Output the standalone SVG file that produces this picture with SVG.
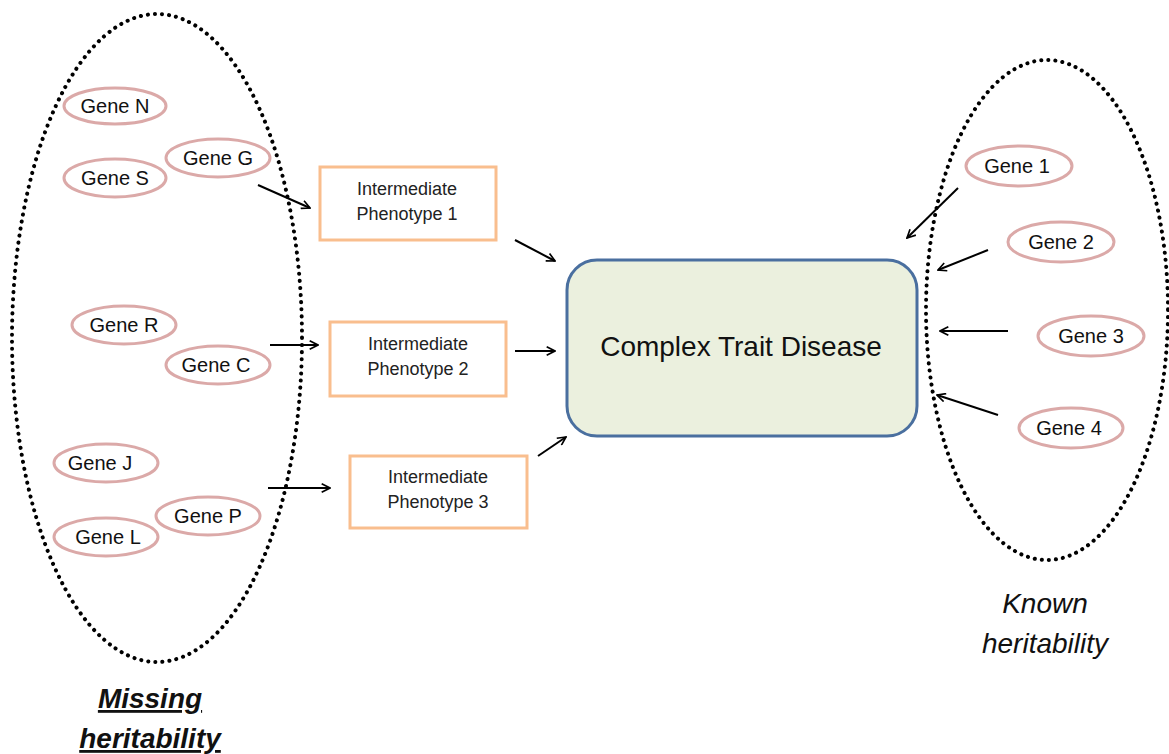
<svg xmlns="http://www.w3.org/2000/svg" width="1169" height="754" viewBox="0 0 1169 754">
<style>
.gene{fill:#fff;stroke:#dba9a8;stroke-width:3}
.gt{font-family:"Liberation Sans",Arial,sans-serif;font-size:20px;fill:#111;text-anchor:middle}
.ph{fill:#fff;stroke:#f9be8e;stroke-width:3}
.pt{font-family:"Liberation Sans",Arial,sans-serif;font-size:18px;fill:#222;text-anchor:middle}
.dot{fill:none;stroke:#000;stroke-width:4;stroke-dasharray:0.1 7;stroke-linecap:round}
.ar{stroke:#000;stroke-width:2;fill:none;marker-end:url(#ah)}
.lbl{font-family:"Liberation Sans",Arial,sans-serif;font-size:28px;font-style:italic;fill:#111;text-anchor:middle}
</style>
<defs>
<marker id="ah" viewBox="0 0 12 12" refX="11" refY="6" markerWidth="10" markerHeight="10" markerUnits="userSpaceOnUse" orient="auto">
<path d="M1,1 L11,6 L1,11" fill="none" stroke="#000" stroke-width="2"/>
</marker>
</defs>
<rect width="1169" height="754" fill="#fff"/>
<g id="missing-group">
<ellipse class="dot" cx="157" cy="338" rx="145" ry="324"/>
</g>
<g id="known-group">
<ellipse class="dot" cx="1047" cy="310" rx="121" ry="250"/>
</g>
<g id="gene-n"><ellipse class="gene" cx="115" cy="106" rx="51" ry="18"/><text class="gt" x="115" y="113">Gene N</text></g>
<g id="gene-s"><ellipse class="gene" cx="115" cy="178" rx="51" ry="19"/><text class="gt" x="115" y="185">Gene S</text></g>
<g id="gene-g"><ellipse class="gene" cx="218" cy="158" rx="52" ry="19"/><text class="gt" x="218" y="165">Gene G</text></g>
<g id="gene-r"><ellipse class="gene" cx="124" cy="325" rx="52" ry="19"/><text class="gt" x="124" y="332">Gene R</text></g>
<g id="gene-c"><ellipse class="gene" cx="218" cy="365" rx="52" ry="19"/><text class="gt" x="216" y="372">Gene C</text></g>
<g id="gene-j"><ellipse class="gene" cx="106" cy="463" rx="52" ry="19"/><text class="gt" x="100" y="470">Gene J</text></g>
<g id="gene-l"><ellipse class="gene" cx="106" cy="537" rx="52" ry="19"/><text class="gt" x="108" y="544">Gene L</text></g>
<g id="gene-p"><ellipse class="gene" cx="208" cy="516" rx="52" ry="19"/><text class="gt" x="208" y="523">Gene P</text></g>
<g id="gene-1"><ellipse class="gene" cx="1019" cy="166" rx="53" ry="20"/><text class="gt" x="1017" y="173">Gene 1</text></g>
<g id="gene-2"><ellipse class="gene" cx="1061" cy="242" rx="53" ry="20"/><text class="gt" x="1061" y="249">Gene 2</text></g>
<g id="gene-3"><ellipse class="gene" cx="1091" cy="336" rx="53" ry="20"/><text class="gt" x="1091" y="343">Gene 3</text></g>
<g id="gene-4"><ellipse class="gene" cx="1071" cy="428" rx="52" ry="20"/><text class="gt" x="1069" y="435">Gene 4</text></g>
<g id="pheno-1"><rect class="ph" x="320" y="167" width="176" height="73"/><text class="pt" x="407" y="195">Intermediate</text><text class="pt" x="407" y="220">Phenotype  1</text></g>
<g id="pheno-2"><rect class="ph" x="330" y="322" width="176" height="74"/><text class="pt" x="418" y="350">Intermediate</text><text class="pt" x="418" y="375">Phenotype  2</text></g>
<g id="pheno-3"><rect class="ph" x="350" y="456" width="177" height="72"/><text class="pt" x="438" y="483">Intermediate</text><text class="pt" x="438" y="508">Phenotype  3</text></g>
<g id="disease"><rect x="567" y="260" width="350" height="176" rx="30" fill="#ebf0de" stroke="#4a6f9f" stroke-width="3"/><text x="741" y="356" font-family="'Liberation Sans',Arial,sans-serif" font-size="28" fill="#111" text-anchor="middle">Complex Trait Disease</text></g>
<g id="connectors">
<line class="ar" x1="258" y1="185" x2="310" y2="208"/>
<line class="ar" x1="515" y1="240" x2="555" y2="261"/>
<line class="ar" x1="270" y1="345" x2="318" y2="345"/>
<line class="ar" x1="515" y1="351" x2="555" y2="351"/>
<line class="ar" x1="268" y1="488" x2="330" y2="488"/>
<line class="ar" x1="538" y1="456" x2="566" y2="437"/>
<line class="ar" x1="958" y1="188" x2="907" y2="238"/>
<line class="ar" x1="988" y1="250" x2="938" y2="270"/>
<line class="ar" x1="1008" y1="331" x2="940" y2="331"/>
<line class="ar" x1="998" y1="415" x2="937" y2="395"/>
</g>
<g id="labels">
<text class="lbl" x="150" y="708" font-weight="bold" text-decoration="underline">Missing</text>
<text class="lbl" x="150" y="748" font-weight="bold" text-decoration="underline">heritability</text>
<text class="lbl" x="1045" y="613">Known</text>
<text class="lbl" x="1045" y="653">heritability</text>
</g>
</svg>
